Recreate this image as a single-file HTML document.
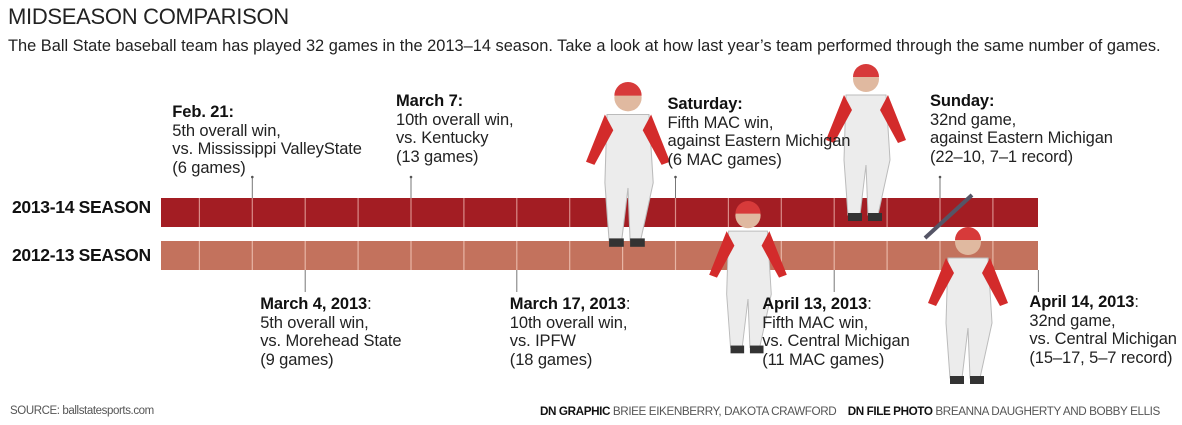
<!DOCTYPE html>
<html><head><meta charset="utf-8"><style>
body{margin:0;width:1182px;height:425px;background:#fff;position:relative;overflow:hidden;font-family:"Liberation Sans",sans-serif;color:#222}
.a{position:absolute;white-space:nowrap}
.ann{position:absolute;font-size:16.5px;line-height:18.5px;color:#222;white-space:nowrap;letter-spacing:-0.1px}
.ann b{font-weight:bold;color:#111}
.lbl{position:absolute;font-weight:bold;font-size:17.5px;color:#111;letter-spacing:-0.3px}
</style></head><body>
<div class="a" style="left:8px;top:4px;font-size:22px;color:#222;letter-spacing:-0.3px">MIDSEASON COMPARISON</div>
<div class="a" style="left:8px;top:37px;font-size:16.4px;color:#222;letter-spacing:0px">The Ball State baseball team has played 32 games in the 2013–14 season. Take a look at how last year’s team performed through the same number of games.</div>
<div class="lbl" style="left:12px;top:197px">2013-14 SEASON</div>
<div class="lbl" style="left:12px;top:245px">2012-13 SEASON</div>
<svg id="chart" width="1182" height="425" style="position:absolute;left:0;top:0"></svg>
<div id="anns"></div>
<div class="a" style="left:10px;top:405px;font-size:11.5px;color:#555;letter-spacing:-0.4px">SOURCE: ballstatesports.com</div>
<div class="a" style="left:540px;top:405px;font-size:11.7px;color:#555;letter-spacing:-0.4px"><b style="color:#111">DN GRAPHIC</b> BRIEE EIKENBERRY, DAKOTA CRAWFORD &nbsp;&nbsp;&nbsp;<b style="color:#111">DN FILE PHOTO</b> BREANNA DAUGHERTY AND BOBBY ELLIS</div>
<script>
const dividerIdx = [0,1,2,3,4,5,6,7,8,9,10,11,12,13,14,15];
const topIdx = [1,4,9,14];
const topTitles = ["Feb. 21:","March 7:","Saturday:","Sunday:"];
const topL1 = ["5th overall win,","10th overall win,","Fifth MAC win,","32nd game,"];
const topL2 = ["vs. Mississippi ValleyState","vs. Kentucky"," against Eastern Michigan","against Eastern Michigan"];
const topL3 = ["(6 games)","(13 games)","(6 MAC games)","(22–10, 7–1 record)"];
const botIdx = [2,6,12,15.86];
const botTitles = ["March 4, 2013","March 17, 2013","April 13, 2013","April 14, 2013"];
const botL1 = ["5th overall win,","10th overall win,","Fifth MAC win,","32nd game,"];
const botL2 = ["vs. Morehead State","vs. IPFW","vs. Central Michigan","vs. Central Michigan"];
const botL3 = ["(9 games)","(18 games)","(11 MAC games)","(15–17, 5–7 record)"];

const X0=161, X1=1038, D0=199.4, STEP=52.9;
const x = i => D0 + i*STEP;
const NS="http://www.w3.org/2000/svg";
const svg=document.getElementById('chart');
function mk(t,a){const e=document.createElementNS(NS,t);for(const k in a)e.setAttribute(k,a[k]);svg.appendChild(e);return e;}
const b1=mk('rect',{x:X0,y:198,width:X1-X0,height:29,fill:'#a31d23'});


const b2=mk('rect',{x:X0,y:241,width:X1-X0,height:29,fill:'#c3725d'});


dividerIdx.forEach(i=>{
  const l1=mk('line',{x1:x(i),x2:x(i),y1:198,y2:227,stroke:'#d98c88','stroke-width':1.2});
  
  
  const l2=mk('line',{x1:x(i),x2:x(i),y1:241,y2:270,stroke:'#e8b5a5','stroke-width':1.2});
  
  
});
function player(px,py,s,nm){
  const g=document.createElementNS(NS,'g');g.setAttribute('transform',`translate(${px},${py}) scale(${s})`);
  
  
  svg.appendChild(g);
  const add=(t,a)=>{const e=document.createElementNS(NS,t);for(const k in a)e.setAttribute(k,a[k]);g.appendChild(e);};
  add('path',{d:'M-20,30 L20,30 L24,95 L12,150 L2,150 L0,100 L-6,150 L-18,150 L-22,95 Z',fill:'#ececec',stroke:'#bbb'});
  add('path',{d:'M-22,30 L-40,75 L-32,78 L-14,45 Z',fill:'#d32b2b'});
  add('path',{d:'M22,30 L40,75 L32,78 L14,45 Z',fill:'#d32b2b'});
  add('circle',{cx:0,cy:14,r:13,fill:'#e0b9a0'});
  add('path',{d:'M-13,12 A13,13 0 0 1 13,12 Z',fill:'#d73a3a'});
  add('rect',{x:-18,y:148,width:14,height:8,fill:'#333'});
  add('rect',{x:2,y:148,width:14,height:8,fill:'#333'});
}
player(628,83,1.05,'photo-player-fielding');
player(866,65,1.0,'photo-player-jumping');
player(748,202,0.97,'photo-player-running');
player(968,228,1.0,'photo-player-batting');
mk('line',{x1:925,y1:238,x2:972,y2:195,stroke:'#556',"stroke-width":4});
topIdx.forEach(i=>{const l=mk('line',{x1:x(i),x2:x(i),y1:177,y2:198,stroke:'#777','stroke-width':1});
  
  mk('circle',{cx:x(i),cy:177,r:1.3,fill:'#555'});});
botIdx.forEach(i=>{const l=mk('line',{x1:x(i),x2:x(i),y1:270,y2:292,stroke:'#777','stroke-width':1});
  });
const anns=document.getElementById('anns');
const topOff=[[-80,103],[-15,92],[-8,95],[-10,92]];
topIdx.forEach((i,k)=>{const d=document.createElement('div');d.className='ann';
  
  
  d.style.left=(x(i)+topOff[k][0])+'px';d.style.top=topOff[k][1]+'px';
  d.innerHTML=`<b>${topTitles[k]}</b><br>${topL1[k]}<br>${topL2[k]}<br>${topL3[k]}`;anns.appendChild(d);});
const botOff=[-45,-7,-72,-9];
botIdx.forEach((i,k)=>{const d=document.createElement('div');d.className='ann';
  
  
  d.style.left=(x(i)+botOff[k])+'px';d.style.top=(k==3?293:295)+'px';
  d.innerHTML=`<b>${botTitles[k]}</b>:<br>${botL1[k]}<br>${botL2[k]}<br>${botL3[k]}`;anns.appendChild(d);});
</script>
</body></html>
